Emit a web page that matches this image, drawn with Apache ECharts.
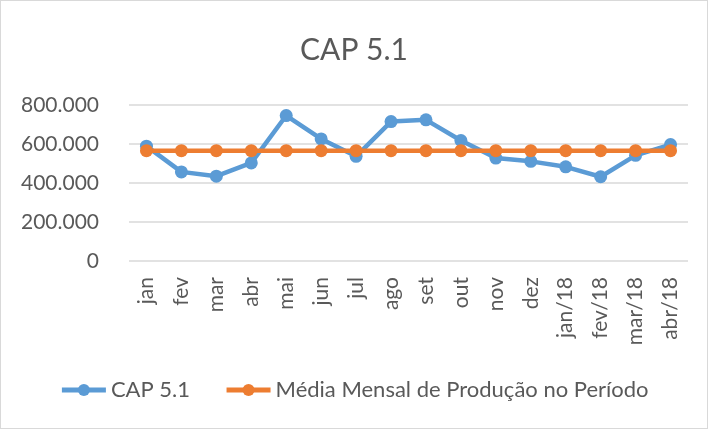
<!DOCTYPE html>
<html>
<head>
<meta charset="utf-8">
<script src="https://cdn.jsdelivr.net/npm/echarts@6/dist/echarts.min.js"></script>
<style>
  body { margin: 0; background: #fff; }
  #chart { width: 708px; height: 429px; box-sizing: border-box; border: 1px solid #d9d9d9; }
</style>
</head>
<body>
<div id="chart"></div>
<script>
// categorias (meses)
const categories = ['jan', 'fev', 'mar', 'abr', 'mai', 'jun', 'jul', 'ago', 'set', 'out', 'nov', 'dez', 'jan/18', 'fev/18', 'mar/18', 'abr/18'];
// produção CAP 5.1
const cap51 = [589000, 457000, 435000, 503000, 746000, 626000, 537000, 715000, 724000, 618000, 528000, 511000, 483000, 432000, 542000, 597000];
// média mensal no período
const media = categories.map(() => 566000);
const yTicks = [0, 200000, 400000, 600000, 800000];

const fmt = v => v === 0 ? '0' : v.toLocaleString('de-DE', { minimumFractionDigits: 0 });

const chart = echarts.init(document.getElementById('chart'));
const txt = '#595959';
chart.setOption({
  animation: false,
  textStyle: { fontFamily: 'Lato' },
  title: {
    text: 'CAP 5.1',
    left: 'center',
    top: 29,
    textStyle: { fontSize: 30, fontWeight: 'normal', color: txt, fontFamily: 'Lato' }
  },
  legend: {
    bottom: 22,
    left: 'center',
    itemWidth: 44,
    itemHeight: 15,
    itemGap: 34,
    textStyle: { fontSize: 22, color: txt },
    lineStyle: { width: 5 },
    data: ['CAP 5.1', 'Média Mensal de Produção no Período']
  },
  grid: { left: 128, right: 19, top: 104, bottom: 167 },
  xAxis: {
    type: 'category',
    data: categories,
    axisLine: { show: false },
    axisTick: { show: false },
    axisLabel: { rotate: 90, fontSize: 21, color: txt, margin: 16 }
  },
  yAxis: {
    type: 'value',
    min: yTicks[0],
    max: yTicks[yTicks.length - 1],
    interval: 200000,
    axisLine: { show: false },
    axisTick: { show: false },
    axisLabel: { fontSize: 21, color: txt, margin: 30, formatter: fmt },
    splitLine: { lineStyle: { color: '#d9d9d9', width: 1.5 } }
  },
  series: [
    {
      name: 'CAP 5.1',
      type: 'line',
      data: cap51,
      symbol: 'circle',
      symbolSize: 13,
      lineStyle: { width: 4.5, color: '#5b9bd5' },
      itemStyle: { color: '#5b9bd5' }
    },
    {
      name: 'Média Mensal de Produção no Período',
      type: 'line',
      data: media,
      symbol: 'circle',
      symbolSize: 13,
      lineStyle: { width: 4.5, color: '#ed7d31' },
      itemStyle: { color: '#ed7d31' }
    }
  ]
});
</script>
</body>
</html>
